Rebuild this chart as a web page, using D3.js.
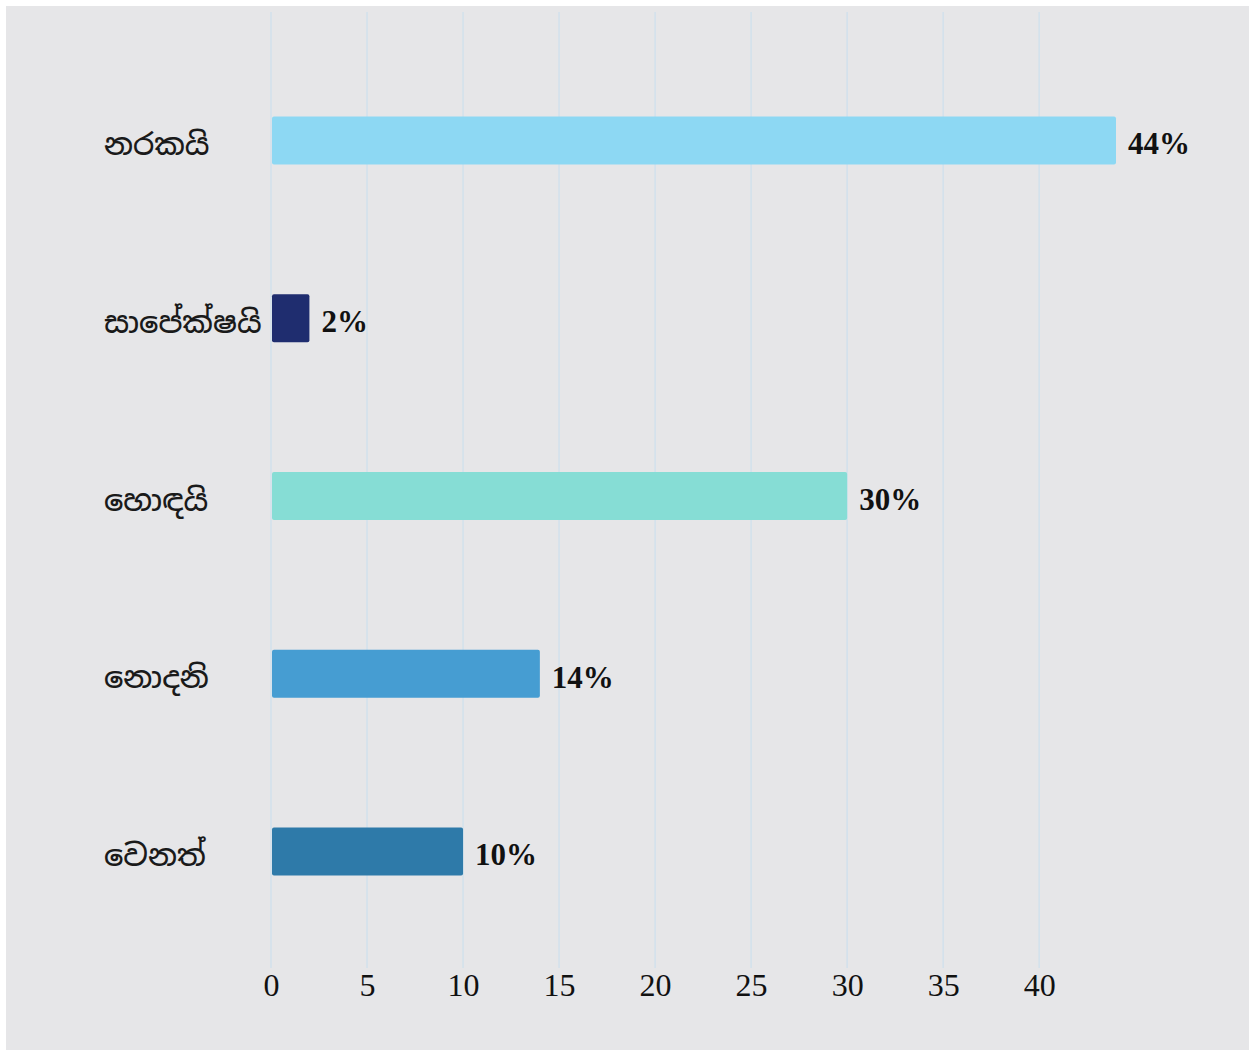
<!DOCTYPE html>
<html>
<head>
<meta charset="utf-8">
<script src="https://cdn.jsdelivr.net/npm/d3@7"></script>
<style>
  body { margin: 0; background: #fff; }
  svg { display: block; }
</style>
</head>
<body>
<div id="app"></div>
<script>
const width = 1254;
const height = 1053;

// data
const categories = ['නරකයි', 'සාපේක්ෂයි', 'හොඳයි', 'නොදනි', 'වෙනත්'];
const values = [44, 2, 30, 14, 10];
const barColors = ['#8dd8f3', '#1f2d6f', '#86ddd5', '#469dd2', '#2e7aa9'];
const tickValues = [0, 5, 10, 15, 20, 25, 30, 35, 40];

const x = d3.scaleLinear().domain([0, 44]).range([271, 1116]);
const y = d3.scaleBand().domain(categories).range([51.5, 940.5])
  .paddingInner(0.73).paddingOuter(0.365);

const svg = d3.create('svg')
  .attr('width', width)
  .attr('height', height);

svg.append('rect')
  .attr('x', 6).attr('y', 6)
  .attr('width', 1243).attr('height', 1044)
  .attr('fill', '#e6e6e8');

// gridlines
svg.append('g')
  .selectAll('line')
  .data(tickValues)
  .join('line')
  .attr('x1', (d)=>x(d)).attr('x2', (d)=>x(d))
  .attr('y1', 12).attr('y2', 968)
  .attr('stroke', '#d2e1ec')
  .attr('stroke-width', 1.5);

// x axis labels
const xAxis = d3.axisBottom(x).tickValues(tickValues).tickSize(0).tickPadding(0);
svg.append('g')
  .attr('transform', 'translate(0,973)')
  .call(xAxis)
  .call((g)=>g.select('.domain').remove())
  .selectAll('text')
  .attr('dy', '0.71em')
  .attr('font-family', '"Liberation Serif", "Times New Roman", serif')
  .attr('font-size', 32)
  .attr('fill', '#111');

// bars
svg.append('g')
  .selectAll('rect')
  .data(values)
  .join('rect')
  .attr('x', x(0) + 1)
  .attr('y', (d, i)=>y(categories[i]))
  .attr('width', (d)=>x(d) - x(0) - 1)
  .attr('height', y.bandwidth())
  .attr('rx', 2)
  .attr('fill', (d, i)=>barColors[i]);

// value labels
svg.append('g')
  .selectAll('text')
  .data(values)
  .join('text')
  .attr('x', (d)=>x(d) + 12)
  .attr('y', (d, i)=>y(categories[i]) + y.bandwidth() / 2 + 3)
  .attr('dy', '0.35em')
  .attr('font-family', '"Liberation Serif", "Times New Roman", serif')
  .attr('font-weight', 'bold')
  .attr('font-size', 31)
  .attr('fill', '#111')
  .text((d)=>d + '%');

// category labels
svg.append('g')
  .selectAll('text')
  .data(categories)
  .join('text')
  .attr('x', 104)
  .attr('y', (d)=>y(d) + y.bandwidth() / 2 + 4)
  .attr('dy', '0.35em')
  .attr('font-family', '"Noto Sans Sinhala", "Iskoola Pota", "Noto Serif Sinhala", serif')
  .attr('font-size', 30)
  .attr('font-weight', 500)
  .attr('fill', '#1a1a1a')
  .text((d)=>d);

document.getElementById('app').appendChild(svg.node());
</script>
</body>
</html>
